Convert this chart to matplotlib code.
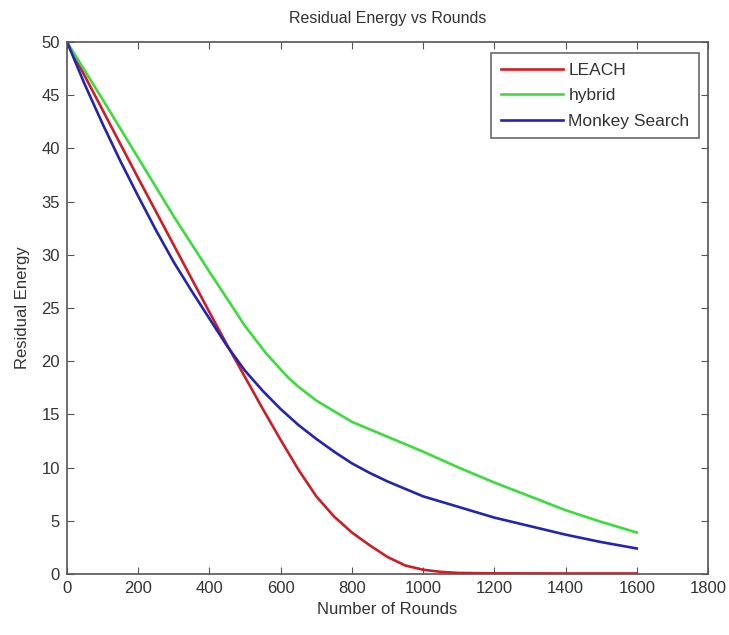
import matplotlib
matplotlib.use("Agg")
import matplotlib.pyplot as plt

plt.rcParams['font.family'] = ['Liberation Sans', 'DejaVu Sans']

rounds_leach = [0, 100, 200, 300, 400, 450, 500, 550, 600, 650, 700, 750, 800, 850, 900, 950, 1000, 1050, 1100, 1200, 1400, 1600]
leach = [50, 43.6, 37.2, 30.9, 24.6, 21.5, 18.5, 15.5, 12.6, 9.8, 7.3, 5.4, 3.9, 2.7, 1.6, 0.8, 0.4, 0.2, 0.1, 0.06, 0.05, 0.05]

rounds_hybrid = [0, 100, 200, 300, 400, 500, 560, 620, 650, 700, 800, 900, 1000, 1100, 1200, 1300, 1400, 1500, 1600]
hybrid = [50, 44.6, 39.1, 33.6, 28.4, 23.3, 20.7, 18.5, 17.6, 16.3, 14.3, 12.9, 11.5, 10.0, 8.6, 7.3, 6.0, 4.9, 3.9]

rounds_monkey = [0, 50, 100, 150, 200, 250, 300, 350, 400, 450, 500, 550, 600, 650, 700, 750, 800, 850, 900, 950, 1000, 1100, 1200, 1300, 1400, 1500, 1600]
monkey = [50, 46.0, 42.3, 38.8, 35.5, 32.3, 29.3, 26.6, 24.0, 21.4, 19.1, 17.2, 15.5, 14.0, 12.7, 11.5, 10.4, 9.5, 8.7, 8.0, 7.3, 6.3, 5.3, 4.5, 3.7, 3.0, 2.4]

x_ticks = [0, 200, 400, 600, 800, 1000, 1200, 1400, 1600, 1800]
y_ticks = [0, 5, 10, 15, 20, 25, 30, 35, 40, 45, 50]

fig = plt.figure(figsize=(7.29, 6.35), dpi=100)
ax = fig.add_axes([67/729, 1-574/635, (708-67)/729, (574-42)/635])

lw = 1.9
ax.plot(rounds_leach, leach, color='#cc1f24', lw=lw, label='LEACH')
ax.plot(rounds_hybrid, hybrid, color='#3ddc3d', lw=lw, label='hybrid')
ax.plot(rounds_monkey, monkey, color='#2424b4', lw=lw, label='Monkey Search')

ax.set_xlim(0, 1800)
ax.set_ylim(0, 50)
ax.set_xticks(x_ticks)
ax.set_yticks(y_ticks)
ax.tick_params(direction='in', length=5, top=True, right=True, labelsize=12,
               colors='#555555', labelcolor='#333333', pad=5)
for s in ax.spines.values():
    s.set_color('#555555')
    s.set_linewidth(1.2)

ax.set_title('Residual Energy vs Rounds', fontsize=11.5, color='#333333', pad=14)
ax.set_xlabel('Number of Rounds', fontsize=12, color='#333333', labelpad=4)
ax.set_ylabel('Residual Energy', fontsize=12, color='#333333', labelpad=8)

leg = ax.legend(loc='upper right', bbox_to_anchor=(699/729, 1-53/635),
                bbox_transform=fig.transFigure, fontsize=12.5, frameon=True,
                fancybox=False, edgecolor='#444444', handlelength=3.6,
                handletextpad=0.3, labelspacing=0.6, borderpad=0.55,
                borderaxespad=0)
leg.get_frame().set_linewidth(1.2)
for t in leg.get_texts():
    t.set_color('#333333')

fig.savefig('out.png', dpi=100)
